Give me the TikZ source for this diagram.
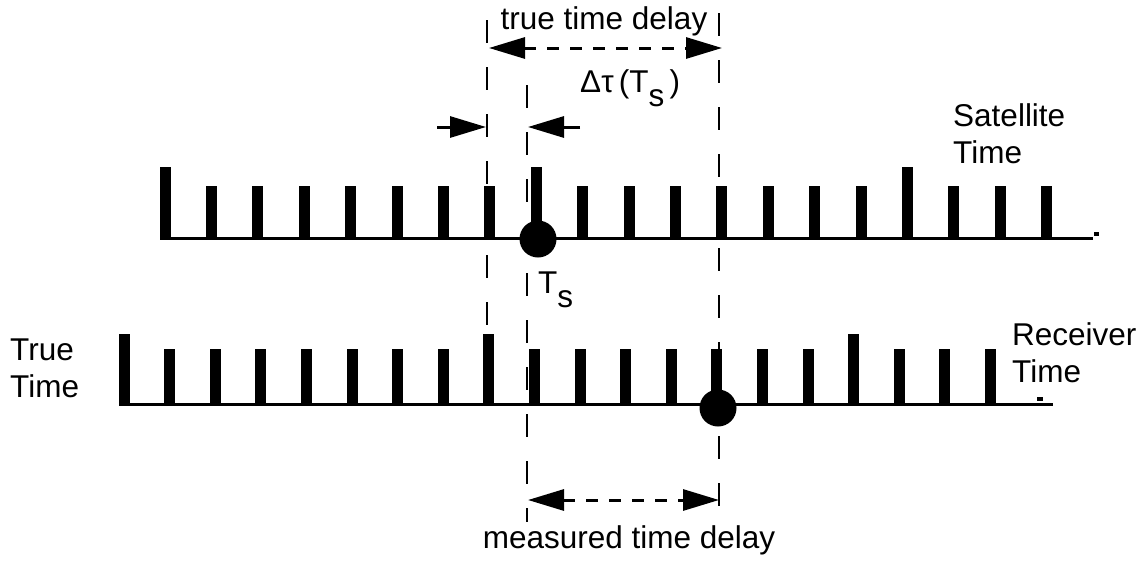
\documentclass[tikz,border=0pt]{standalone}
\usepackage{fontspec}
\setmainfont{Liberation Sans}
\usetikzlibrary{positioning,arrows.meta}
\newcommand{\lowsub}[1]{\raisebox{-0.45em}{#1}}

\begin{document}
\begin{tikzpicture}[
    x=1pt, y=-1pt,
    font=\fontsize{31.5}{37}\selectfont,
    lab/.style={inner sep=0pt, align=left},
    tickbar/.style={fill=black},
    axis/.style={line width=3pt},
    guide/.style={line width=2.7pt, dash pattern=on 23pt off 24pt},
    delay/.style={{Triangle[length=36pt,width=21pt]}-{Triangle[length=36pt,width=21pt]}, line width=3pt, dash pattern=on 12pt off 11pt},
    nudge/.style={-{Triangle[length=36pt,width=21pt]}, line width=3pt},
    epoch/.style={circle, fill=black, inner sep=0pt, minimum size=37pt},
]
    \useasboundingbox (0,0) rectangle (1148,562);
    \coordinate (s0) at (160,238);
    \coordinate (s1) at (1093,238);
    \coordinate (r0) at (119,404);
    \coordinate (r1) at (1053,404);
    \draw[axis] (s0) -- (s1);
    \draw[axis] (r0) -- (r1);
    \foreach \i in {0,...,19} \fill[tickbar] ({165+46.4*\i-5.5},238) rectangle ++(11,-52);
    \foreach \i in {0,8,16} \fill[tickbar] ({165+46.4*\i-5.5},238) rectangle ++(11,-71);
    \foreach \i in {0,...,19} \fill[tickbar] ({124+45.6*\i-5.5},404) rectangle ++(11,-55);
    \foreach \i in {0,8,16} \fill[tickbar] ({124+45.6*\i-5.5},404) rectangle ++(11,-70);
    \fill (1094,232) rectangle (1099,236);
    \fill (1037,397) rectangle (1043,401);
    \node[epoch] (sdot) at (538,239) {};
    \node[epoch] (rdot) at (718,408) {};
    \coordinate (g1a) at (487,20);
    \coordinate (g1b) at (487,332);
    \coordinate (g2a) at (527,85);
    \coordinate (g2b) at (527,522);
    \coordinate (g3a) at (719,13);
    \coordinate (g3b) at (719,510);
    \foreach \a/\b in {g1a/g1b,g2a/g2b,g3a/g3b} \draw[guide] (\a) -- (\b);
    \coordinate (td0) at (489,48);
    \coordinate (td1) at (722,48);
    \coordinate (md0) at (528,500);
    \coordinate (md1) at (719,500);
    \draw[delay] (td0) -- (td1);
    \draw[delay] (md0) -- (md1);
    \coordinate (n0) at (437,127);
    \coordinate (n1) at (486,127);
    \coordinate (n2) at (580,127);
    \coordinate (n3) at (528,127);
    \draw[nudge] (n0) -- (n1);
    \draw[nudge] (n2) -- (n3);
    \node[lab, anchor=base] (tdl) at (604,29) {true time delay};
    \node[lab, anchor=base west] (dtau) at (580,92) {Δτ\,(T\lowsub{s}\,)};
    \node[lab, anchor=base west] (ts) at (538,293) {T\lowsub{s}};
    \node[lab, anchor=base west] (satl) at (953,163) {Satellite\\Time};
    \node[lab, anchor=base west] (recl) at (1012,382) {Receiver\\Time};
    \node[lab, anchor=base west] (truel) at (10,397) {True\\Time};
    \node[lab, anchor=base] (mtd) at (629,548) {measured time delay};
\end{tikzpicture}
\end{document}
